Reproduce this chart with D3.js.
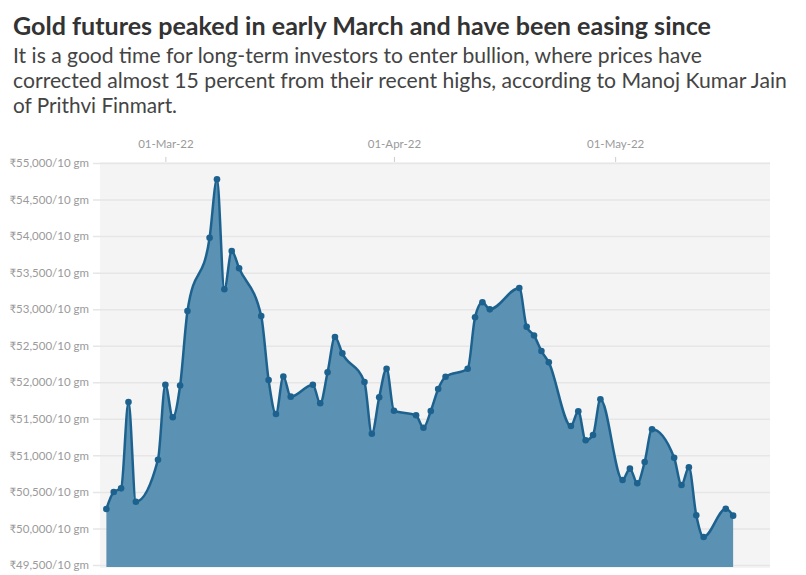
<!DOCTYPE html>
<html>
<head>
<meta charset="utf-8">
<script src="https://cdn.jsdelivr.net/npm/d3@7"></script>
<style>
  body { margin: 0; background: #fff; }
  text { font-family: Lato, "Noto Sans", sans-serif; }
</style>
</head>
<body>
<script>
// Tamaño
const w = 806;
const h = 575;

// Textos
const title = "Gold futures peaked in early March and have been easing since";
const subtitle = [
    "It is a good time for long-term investors to enter bullion, where prices have",
    "corrected almost 15 percent from their recent highs, according to Manoj Kumar Jain",
    "of Prithvi Finmart."
];

// Datos (fechas de negociación y precio ₹/10 gm)
const dates = [
    "2022-02-21", "2022-02-22", "2022-02-23", "2022-02-24", "2022-02-25",
    "2022-02-28", "2022-03-01", "2022-03-02", "2022-03-03", "2022-03-04",
    "2022-03-07", "2022-03-08", "2022-03-09", "2022-03-10", "2022-03-11",
    "2022-03-14", "2022-03-15", "2022-03-16", "2022-03-17", "2022-03-18",
    "2022-03-21", "2022-03-22", "2022-03-23", "2022-03-24", "2022-03-25",
    "2022-03-28", "2022-03-29", "2022-03-30", "2022-03-31", "2022-04-01",
    "2022-04-04", "2022-04-05", "2022-04-06", "2022-04-07", "2022-04-08",
    "2022-04-11", "2022-04-12", "2022-04-13", "2022-04-14",
    "2022-04-18", "2022-04-19", "2022-04-20", "2022-04-21", "2022-04-22",
    "2022-04-25", "2022-04-26", "2022-04-27", "2022-04-28", "2022-04-29",
    "2022-05-02", "2022-05-03", "2022-05-04", "2022-05-05", "2022-05-06",
    "2022-05-09", "2022-05-10", "2022-05-11", "2022-05-12", "2022-05-13",
    "2022-05-16", "2022-05-17"
];
const prices = [
    50266, 50499, 50549, 51730, 50366,
    50941, 51967, 51521, 51956, 52975,
    53978, 54777, 53272, 53796, 53559,
    52907, 52031, 51566, 52079, 51803,
    51967, 51712, 52136, 52619, 52396,
    52004, 51296, 51794, 52186, 51611,
    51548, 51378, 51607, 51908, 52076,
    52186, 52889, 53094, 52998,
    53290, 52759, 52640, 52428, 52273,
    51402, 51603, 51206, 51279, 51767,
    50663, 50818, 50618, 50909, 51357,
    50968, 50595, 50837, 50180, 49883,
    50270, 50175
];
const yTicks = [49500, 50000, 50500, 51000, 51500, 52000, 52500, 53000, 53500, 54000, 54500, 55000];
const xTicks = ["2022-03-01", "2022-04-01", "2022-05-01"];

const parseDate = d3.timeParse("%Y-%m-%d");
const dataset = dates.map((d, i) => ({ date: parseDate(d), price: prices[i] }));

// Márgenes del gráfico
const pLeft = 99, pRight = 770, pTop = 163, pBottom = 565;

const svg = d3.select("body")
    .append("svg")
    .attr("width", w)
    .attr("height", h);

// Ajusta el tamaño de letra al ancho buscado
function fit(sel, target) {
    const size = parseFloat(sel.attr("font-size"));
    const len = sel.node().getComputedTextLength();
    sel.attr("font-size", (size * target / len).toFixed(2) + "px");
}

// Título
const t = svg.append("text")
    .attr("x", 13)
    .attr("y", 35)
    .attr("font-size", "22px")
    .attr("font-weight", "bold")
    .attr("fill", "#333")
    .text(title);
fit(t, 698);

// Subtítulo
const subWidths = [689, 774, 164];
subtitle.forEach((line, i) => {
    const s = svg.append("text")
        .attr("x", 13)
        .attr("y", 63 + i * 25)
        .attr("font-size", "20px")
        .attr("fill", "#444")
        .text(line);
    fit(s, subWidths[i]);
});

// Escalas
const xScale = d3.scaleTime()
    .domain([new Date(2022, 1, 20), new Date(2022, 4, 22)])
    .range([pLeft, pRight]);

const yScale = d3.scaleLinear()
    .domain([49500, 55000])
    .range([pBottom, pTop]);

// Fondo
svg.append("rect")
    .attr("x", pLeft + 1)
    .attr("y", pTop - 1)
    .attr("width", pRight - pLeft - 1)
    .attr("height", 568 - pTop + 1)
    .attr("fill", "#f4f4f4");

// Eje Y con líneas de cuadrícula
const yAxis = d3.axisLeft(yScale)
    .tickValues(yTicks)
    .tickSizeInner(-(pRight - 93))
    .tickSizeOuter(0)
    .tickPadding(4)
    .tickFormat(d => "₹" + d3.format(",")(d) + "/10 gm");

const gy = svg.append("g")
    .attr("transform", "translate(93,0)")
    .call(yAxis);
gy.select(".domain").remove();
gy.selectAll("line").attr("stroke", "#e6e6e6").attr("stroke-width", 1.5);
gy.selectAll("text")
    .attr("fill", "#9a9a9a")
    .style("font-size", "11.5px");

// Eje X arriba
const xAxis = d3.axisTop(xScale)
    .tickValues(xTicks.map(parseDate))
    .tickSize(5)
    .tickPadding(9)
    .tickFormat(d3.timeFormat("%d-%b-%y"));

const gx = svg.append("g")
    .attr("transform", `translate(0, ${pTop - 1})`)
    .call(xAxis);
gx.select(".domain").remove();
gx.selectAll("line").attr("stroke", "#ccc");
gx.selectAll("text")
    .attr("fill", "#9a9a9a")
    .style("font-size", "11.5px");

// Área
const area = d3.area()
    .x(d => xScale(d.date))
    .y0(567)
    .y1(d => yScale(d.price))
    .curve(d3.curveMonotoneX);

svg.append("path")
    .datum(dataset)
    .attr("d", area)
    .attr("fill", "#5b92b3");

// Línea
const line = d3.line()
    .x(d => xScale(d.date))
    .y(d => yScale(d.price))
    .curve(d3.curveMonotoneX);

svg.append("path")
    .datum(dataset)
    .attr("d", line)
    .attr("fill", "none")
    .attr("stroke", "#1d628f")
    .attr("stroke-width", 2.5)
    .attr("stroke-linejoin", "round");

// Puntos
svg.selectAll("circle")
    .data(dataset)
    .enter()
    .append("circle")
    .attr("cx", d => xScale(d.date))
    .attr("cy", d => yScale(d.price))
    .attr("r", 3.3)
    .attr("fill", "#1d628f");
</script>
</body>
</html>
